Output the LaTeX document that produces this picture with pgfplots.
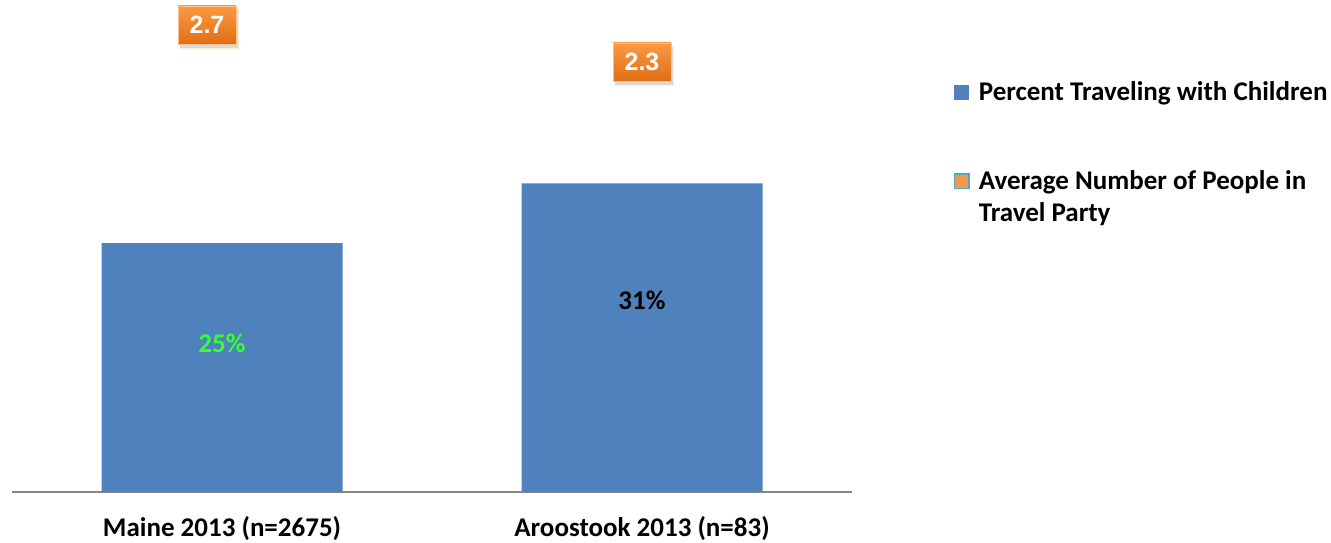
\documentclass[border=0pt]{standalone}
\usepackage{pgfplots}
\pgfplotsset{compat=1.18}
\usepackage{fontspec}
\setmainfont{Carlito}
\newfontfamily\arialfont{Liberation Sans}
\usetikzlibrary{shadows}
\definecolor{barblue}{HTML}{4F81BD}
\definecolor{axgray}{HTML}{868686}
\definecolor{lblgreen}{HTML}{33FF33}
\definecolor{orgtop}{HTML}{F99A45}
\definecolor{orgbot}{HTML}{E26E14}
\definecolor{orgleg}{HTML}{F79646}
\definecolor{legborder}{HTML}{4BACC6}
\tikzset{orangebox/.style={font=\arialfont\bfseries\fontsize{25}{28}\selectfont, text=white,
  top color=orgtop, bottom color=orgbot, draw=orgtop!60!white, line width=0.8pt,
  minimum width=58pt, minimum height=38pt, inner sep=0pt, anchor=center,
  drop shadow={opacity=0.3, shadow xshift=2pt, shadow yshift=-4pt}}}
\begin{document}
\begin{tikzpicture}[font=\fontsize{27}{32}\selectfont\bfseries]
\useasboundingbox (0,0) rectangle (1331pt,542pt);
\begin{axis}[
  at={(12pt,50pt)}, anchor=south west,
  scale only axis, width=840pt, height=492pt,
  xmin=-0.5, xmax=1.5, ymin=0, ymax=49.4,
  axis y line=none, axis x line=bottom,
  x axis line style={-, draw=axgray, line width=2pt},
  xtick={0,1}, xticklabels={Maine 2013 (n=2675), Aroostook 2013 (n=83)},
  major tick length=0pt, ytick=\empty,
  xticklabel style={yshift=-21pt, font=\fontsize{27}{32}\selectfont\bfseries},
  clip=false,
  legend style={draw=none, fill=none, at={(1.1174,0.842)}, anchor=north west,
    row sep=64pt, cells={anchor=west, align=left},
    /tikz/every odd column/.append style={column sep=7pt},
    font=\fontsize{27}{32}\selectfont\bfseries},
]
\addplot[ybar, bar width=241pt, fill=barblue, draw=none,
  legend image code/.code={\fill[barblue] (0pt,-7.5pt) rectangle (15pt,7.5pt);}]
  coordinates {(0,25) (1,31)};
\addlegendentry{Percent Traveling with Children}
\addlegendimage{legend image code/.code={\draw[fill=orgleg, draw=legborder, line width=1.5pt] (0.75pt,8.25pt) rectangle (15.25pt,22.75pt);}}
\addlegendentry{Average Number of People in\\Travel Party}
\addplot[only marks, mark=*, mark size=0pt, mark options={draw=none, fill=none}, forget plot,
  nodes near coords, point meta=explicit symbolic,
  nodes near coords style={text=lblgreen, anchor=center}]
  coordinates {(0,14.9) [25\%]};
\addplot[only marks, mark=*, mark size=0pt, mark options={draw=none, fill=none}, forget plot,
  nodes near coords, point meta=explicit symbolic,
  nodes near coords style={text=black, anchor=center}]
  coordinates {(1,19.2) [31\%]};
\end{axis}
\begin{axis}[
  at={(12pt,50pt)}, anchor=south west,
  scale only axis, width=840pt, height=492pt,
  xmin=-0.5, xmax=1.5, ymin=-2.35, ymax=2.97,
  hide axis, clip=false,
]
\addplot[only marks, mark=*, mark size=0pt, mark options={draw=none, fill=none},
  nodes near coords, point meta=explicit symbolic,
  nodes near coords style={orangebox, xshift=-15pt}]
  coordinates {(0,2.7) [2.7]};
\addplot[only marks, mark=*, mark size=0pt, mark options={draw=none, fill=none},
  nodes near coords, point meta=explicit symbolic,
  nodes near coords style={orangebox}]
  coordinates {(1,2.3) [2.3]};
\end{axis}
\end{tikzpicture}
\end{document}
